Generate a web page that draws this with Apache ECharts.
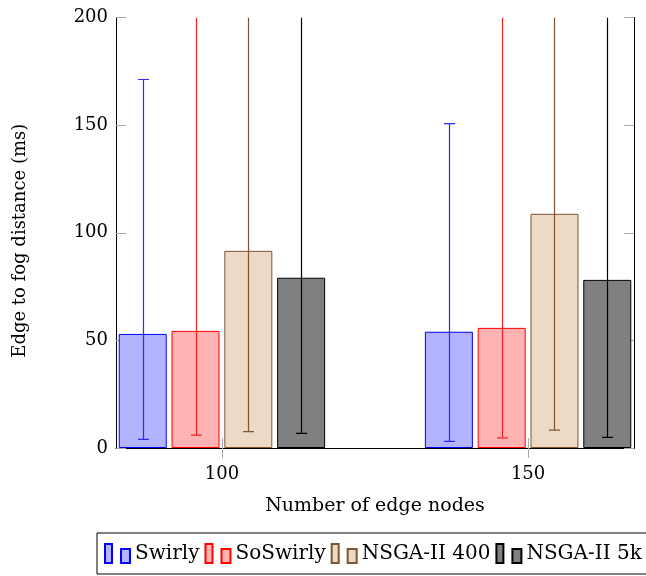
<!DOCTYPE html>
<html>
<head>
<meta charset="utf-8">
<script src="https://cdn.jsdelivr.net/npm/echarts@6/dist/echarts.min.js"></script>
<style>
  html, body { margin: 0; padding: 0; background: #fff; }
  #main { width: 646px; height: 576px; }
</style>
</head>
<body>
<div id="main"></div>
<script>
// data
const nodes = [100, 150]
const seriesNames = ['Swirly', 'SoSwirly', 'NSGA-II 400', 'NSGA-II 5k']
const swirly = [53.0, 54.0]
const soSwirly = [54.4, 55.8]
const nsga400 = [91.6, 108.8]
const nsga5k = [79.1, 78.1]
// error bar ends (low / high), highs above 200 are clipped in the figure
const swirlyLow = [4.0, 3.1]
const swirlyHigh = [171.2, 150.7]
const soSwirlyLow = [6.0, 4.7]
const soSwirlyHigh = [260, 260]
const nsga400Low = [7.6, 8.3]
const nsga400High = [260, 260]
const nsga5kLow = [6.8, 4.9]
const nsga5kHigh = [260, 260]
const yTicks = [0, 50, 100, 150, 200]

const fills = ['#b3b3ff', '#ffb3b3', '#ecd9c6', '#808080']
const strokes = ['#0000ff', '#ff0000', '#7d5630', '#000000']
const errColors = ['#2a2aff', '#ff2020', '#7d5630', '#000000']
const offsets = [-79.2, -26.4, 26.4, 79.2]

const means = [swirly, soSwirly, nsga400, nsga5k]
const lows = [swirlyLow, soSwirlyLow, nsga400Low, nsga5kLow]
const highs = [swirlyHigh, soSwirlyHigh, nsga400High, nsga5kHigh]

const font = 'DejaVu Serif'
const yMax = yTicks[yTicks.length - 1]

var myChart = echarts.init(document.getElementById('main'))

const barSeries = seriesNames.map((name, i) => ({
  name: name,
  type: 'bar',
  xAxisIndex: 0,
  yAxisIndex: 0,
  barWidth: 48,
  barGap: '10%',
  itemStyle: { color: fills[i], borderColor: strokes[i], borderWidth: 1 },
  emphasis: { disabled: true },
  data: nodes.map((n, k) => [n, means[i][k]]),
}))

const errSeries = seriesNames.map((name, i) => ({
  type: 'custom',
  xAxisIndex: 0,
  yAxisIndex: 0,
  z: 5,
  clip: true,
  silent: true,
  data: nodes.map((n, k) => [n, lows[i][k], highs[i][k]]),
  renderItem: (params, api) => {
    const x = api.value(0)
    const hi = api.value(2)
    const p = api.coord([x, api.value(1)])
    const q = api.coord([x, Math.min(hi, yMax)])
    const cx = Math.round(p[0] + offsets[i]) + 0.5
    const style = { stroke: errColors[i], lineWidth: 1.2 }
    const children = [
      { type: 'line', shape: { x1: cx, y1: p[1], x2: cx, y2: q[1] }, style },
      { type: 'line', shape: { x1: cx - 5.5, y1: p[1], x2: cx + 5.5, y2: p[1] }, style },
    ]
    if (hi <= yMax) {
      children.push({ type: 'line', shape: { x1: cx - 5.5, y1: q[1], x2: cx + 5.5, y2: q[1] }, style })
    }
    return { type: 'group', children }
  },
}))

var option = {
  animation: false,
  textStyle: { fontFamily: font },
  grid: { left: 116, right: 12, top: 17.5, bottom: 128, outerBoundsMode: 'none' },
  legend: {
    data: seriesNames,
    left: 97,
    top: 533,
    width: 700,
    padding: [10, 8, 10, 7],
    itemGap: 5,
    itemWidth: 25,
    itemHeight: 19,
    icon: 'path://M0,0h7v19h-7z M16,5h9v14h-9z',
    borderColor: '#000',
    borderWidth: 1,
    textStyle: { fontFamily: font, fontSize: 20, color: '#000' },
  },
  xAxis: [
    {
      type: 'value',
      min: 82.7,
      max: 167.3,
      name: 'Number of edge nodes',
      nameLocation: 'middle',
      nameGap: 49,
      nameTextStyle: { fontFamily: font, fontSize: 19, color: '#000' },
      axisLine: { show: true, lineStyle: { color: '#000', width: 1 } },
      axisTick: { show: true, inside: false, length: 10, customValues: nodes, lineStyle: { color: '#aaa' } },
      axisLabel: { customValues: nodes, margin: 17, fontFamily: font, fontSize: 18, color: '#000' },
      splitLine: { show: false },
    },
    {
      type: 'value',
      position: 'top',
      min: 82.7,
      max: 167.3,
      axisLine: { show: true, lineStyle: { color: '#000', width: 1 } },
      axisTick: { show: true, inside: false, length: 10, customValues: nodes, lineStyle: { color: '#aaa' } },
      axisLabel: { show: false },
      splitLine: { show: false },
    },
  ],
  yAxis: [
    {
      type: 'value',
      min: 0,
      max: yMax,
      interval: 50,
      name: 'Edge to fog distance (ms)',
      nameLocation: 'middle',
      nameGap: 87,
      nameTextStyle: { fontFamily: font, fontSize: 18, color: '#000', padding: [0, 16, 0, 0] },
      axisLine: { show: true, lineStyle: { color: '#000', width: 1 } },
      axisTick: { show: true, inside: true, length: 10, lineStyle: { color: '#aaa' } },
      axisLabel: { margin: 8, fontFamily: font, fontSize: 18, color: '#000' },
      splitLine: { show: false },
    },
    {
      type: 'value',
      position: 'right',
      min: 0,
      max: yMax,
      interval: 50,
      axisLine: { show: true, lineStyle: { color: '#000', width: 1 } },
      axisTick: { show: true, inside: true, length: 10, lineStyle: { color: '#aaa' } },
      axisLabel: { show: false },
      splitLine: { show: false },
    },
  ],
  series: [...barSeries, ...errSeries],
}

myChart.setOption(option)
</script>
</body>
</html>
